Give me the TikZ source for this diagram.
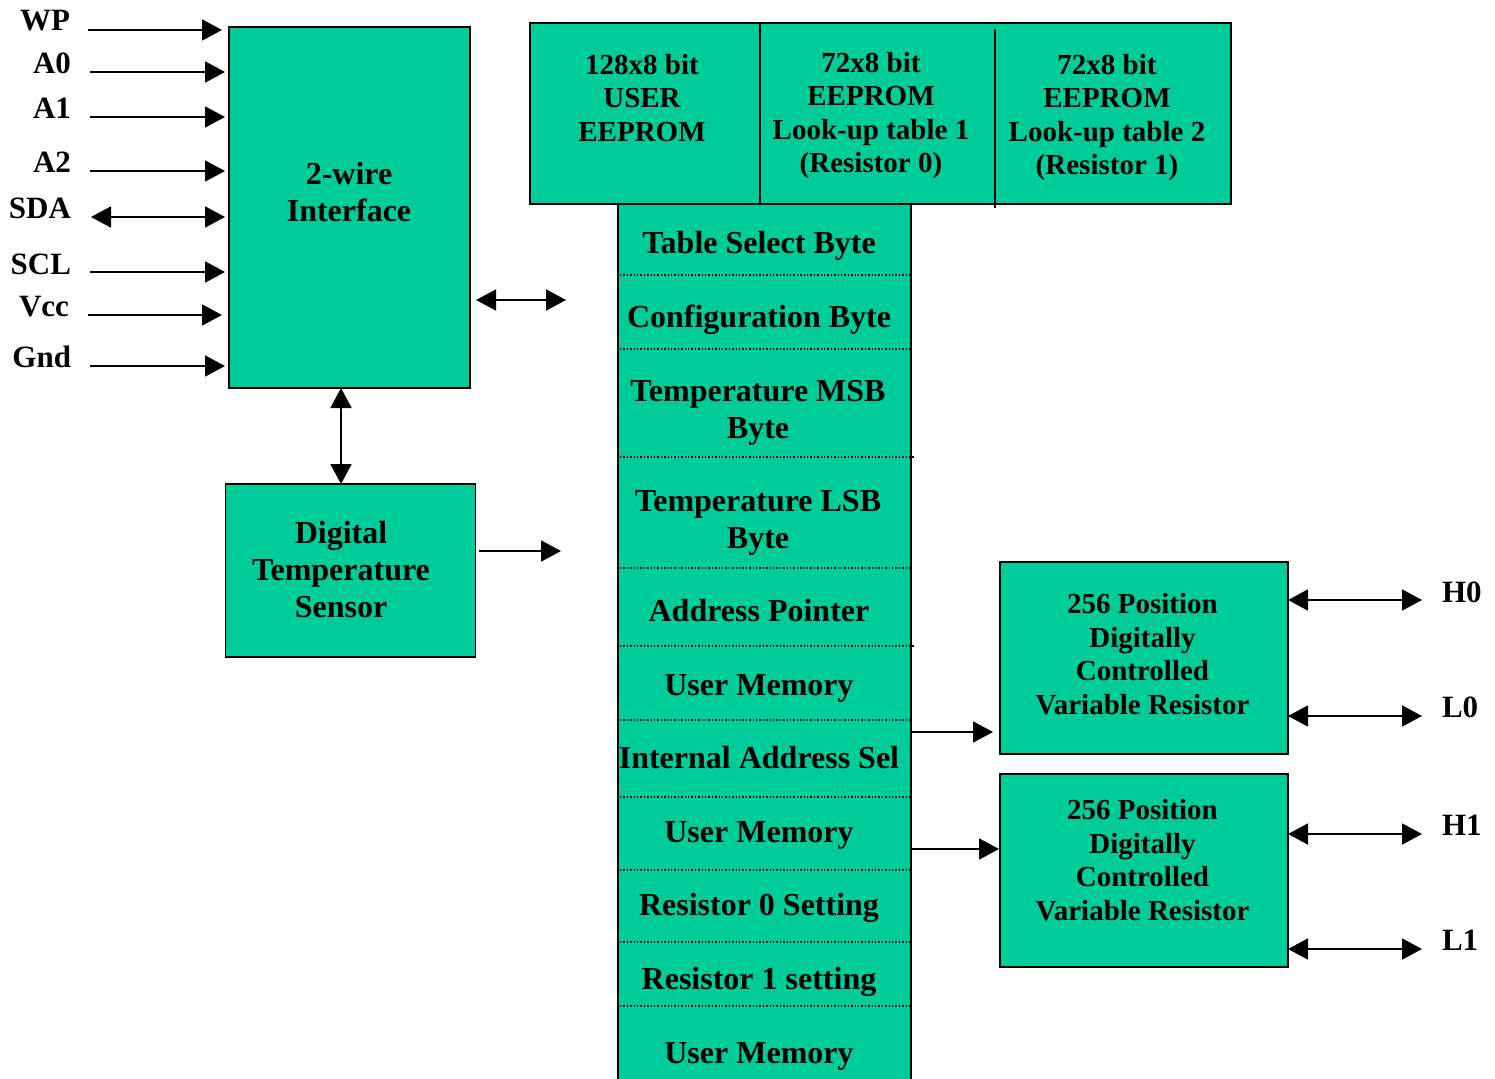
\documentclass[tikz,border=0pt]{standalone}
\usepackage{fontspec}
\setmainfont{Liberation Serif}
\usetikzlibrary{arrows.meta}
\definecolor{boxgreen}{HTML}{00CC99}
\begin{document}
\begin{tikzpicture}[x=1pt,y=-1pt,
  blk/.style={draw=black, line width=1.8pt, fill=boxgreen, inner sep=0, outer sep=0},
  big/.style={font=\fontsize{32}{37}\selectfont\bfseries, align=center, inner sep=0, outer sep=0},
  small/.style={font=\fontsize{29}{33.5}\selectfont\bfseries, align=center, inner sep=0, outer sep=0},
  lbl/.style={font=\fontsize{31}{37}\selectfont\bfseries, inner sep=0, outer sep=0},
  arr/.style={line width=1.8pt, -{Triangle[length=20pt,width=21pt]}},
  darr/.style={line width=1.8pt, {Triangle[length=20pt,width=21pt]}-{Triangle[length=20pt,width=21pt]}},
  sep/.style={line width=1.4pt, dash pattern=on 1.4pt off 2pt},
]
\useasboundingbox (0,0) rectangle (1495,1078);

% ---------- boxes ----------
\node[blk, minimum width=241pt, minimum height=361pt] (twowire) at (349.5,207.5) {};
\node[blk, minimum width=250pt, minimum height=173pt] (dts) at (350.5,570.5) {};
\node[blk, minimum width=293pt, minimum height=896pt] (regs) at (764.5,652) {};
\node[blk, minimum width=701pt, minimum height=181pt] (eeprom) at (880.5,113.5) {};
\draw[line width=1.8pt] (760,23) -- (760,204);
\draw[line width=1.8pt] (995,29) -- (995,208);
\node[blk, minimum width=288pt, minimum height=192pt] (res0) at (1144,658) {};
\node[blk, minimum width=288pt, minimum height=193pt] (res1) at (1144,870.5) {};

% ---------- box texts ----------
\node[big] (t2w) at (349,192) {2-wire\\Interface};
\node[big] (tdts) at (341,570) {Digital\\Temperature\\Sensor};
\node[small] (tc1) at (642,98) {128x8 bit\\USER\\EEPROM};
\node[small] (tc2) at (871,115.5) {72x8 bit\\EEPROM\\Look-up table 1\\(Resistor 0)};
\node[small] (tc3) at (1107,117.5) {72x8 bit\\EEPROM\\Look-up table 2\\(Resistor 1)};
\node[small] (tr0) at (1142.5,654) {256 Position\\Digitally\\Controlled\\Variable Resistor};
\node[small] (tr1) at (1142.5,860) {256 Position\\Digitally\\Controlled\\Variable Resistor};

% ---------- register rows ----------
\node[big, anchor=base] (g1) at (759,253) {Table Select Byte};
\node[big, anchor=base] (g2) at (759,327) {Configuration Byte};
\node[big] (g3) at (758,413) {Temperature MSB\\Byte};
\node[big] (g4) at (758,523) {Temperature LSB\\Byte};
\node[big, anchor=base] (g5) at (759,621) {Address Pointer};
\node[big, anchor=base] (g6) at (759,695) {User Memory};
\node[big, anchor=base] (g7) at (759,768) {Internal Address Sel};
\node[big, anchor=base] (g8) at (759,842) {User Memory};
\node[big, anchor=base] (g9) at (759,915) {Resistor 0 Setting};
\node[big, anchor=base] (g10) at (759,989) {Resistor 1 setting};
\node[big, anchor=base] (g11) at (759,1063) {User Memory};

\foreach \yy/\xe in {275/911,349/911,457/915,568/911,646/915,720/911,797/911,870/911,942/911,1006/911}
  \draw[sep] (620,\yy) -- (\xe,\yy);

% ---------- pin labels ----------
\node[lbl, anchor=base east] (lWP) at (70,31) {WP};
\node[lbl, anchor=base east] (lA0) at (71,74) {A0};
\node[lbl, anchor=base east] (lA1) at (71,119) {A1};
\node[lbl, anchor=base east] (lA2) at (71,173) {A2};
\node[lbl, anchor=base east] (lSDA) at (71,218) {SDA};
\node[lbl, anchor=base east] (lSCL) at (71,274) {SCL};
\node[lbl, anchor=base east] (lVcc) at (69,316) {Vcc};
\node[lbl, anchor=base east] (lGnd) at (71,367) {Gnd};

\node[lbl, anchor=base west] (lH0) at (1442,602) {H0};
\node[lbl, anchor=base west] (lL0) at (1442,717) {L0};
\node[lbl, anchor=base west] (lH1) at (1442,835) {H1};
\node[lbl, anchor=base west] (lL1) at (1442,950) {L1};

% ---------- pin arrows ----------
\coordinate (pWP) at (88,30);
\coordinate (pA0) at (90,72);
\coordinate (pA1) at (90,117);
\coordinate (pA2) at (90,171);
\coordinate (pSDA) at (91,217);
\coordinate (pSCL) at (90,272);
\coordinate (pVcc) at (88,315);
\coordinate (pGnd) at (90,366);
\draw[arr, shorten >=7pt] (pWP) -- (pWP -| twowire.west);
\draw[arr, shorten >=4pt] (pA0) -- (pA0 -| twowire.west);
\draw[arr, shorten >=4pt] (pA1) -- (pA1 -| twowire.west);
\draw[arr, shorten >=4pt] (pA2) -- (pA2 -| twowire.west);
\draw[darr, shorten >=4pt] (pSDA) -- (pSDA -| twowire.west);
\draw[arr, shorten >=4pt] (pSCL) -- (pSCL -| twowire.west);
\draw[arr, shorten >=7pt] (pVcc) -- (pVcc -| twowire.west);
\draw[arr, shorten >=4pt] (pGnd) -- (pGnd -| twowire.west);

% ---------- internal arrows ----------
\coordinate (ifL) at (476,300);
\coordinate (ifR) at (566,300);
\draw[darr] (ifL) -- (ifR);
\coordinate (vx) at (341,0);
\draw[darr] (twowire.south -| vx) -- (dts.north -| vx);
\coordinate (dtsO) at (479,551);
\coordinate (dtsT) at (561,551);
\draw[arr] (dtsO) -- (dtsT);
\coordinate (q0) at (911,732);
\coordinate (q1) at (911,849);
\draw[arr, shorten >=7pt] (q0) -- (q0 -| res0.west);
\draw[arr, shorten >=1pt] (q1) -- (q1 -| res1.west);

% ---------- resistor terminals ----------
\coordinate (oH0) at (1422,600);
\coordinate (oL0) at (1422,716);
\coordinate (oH1) at (1422,834);
\coordinate (oL1) at (1422,949);
\draw[darr] (oH0 -| res0.east) -- (oH0);
\draw[darr] (oL0 -| res0.east) -- (oL0);
\draw[darr] (oH1 -| res1.east) -- (oH1);
\draw[darr] (oL1 -| res1.east) -- (oL1);
\end{tikzpicture}
\end{document}
